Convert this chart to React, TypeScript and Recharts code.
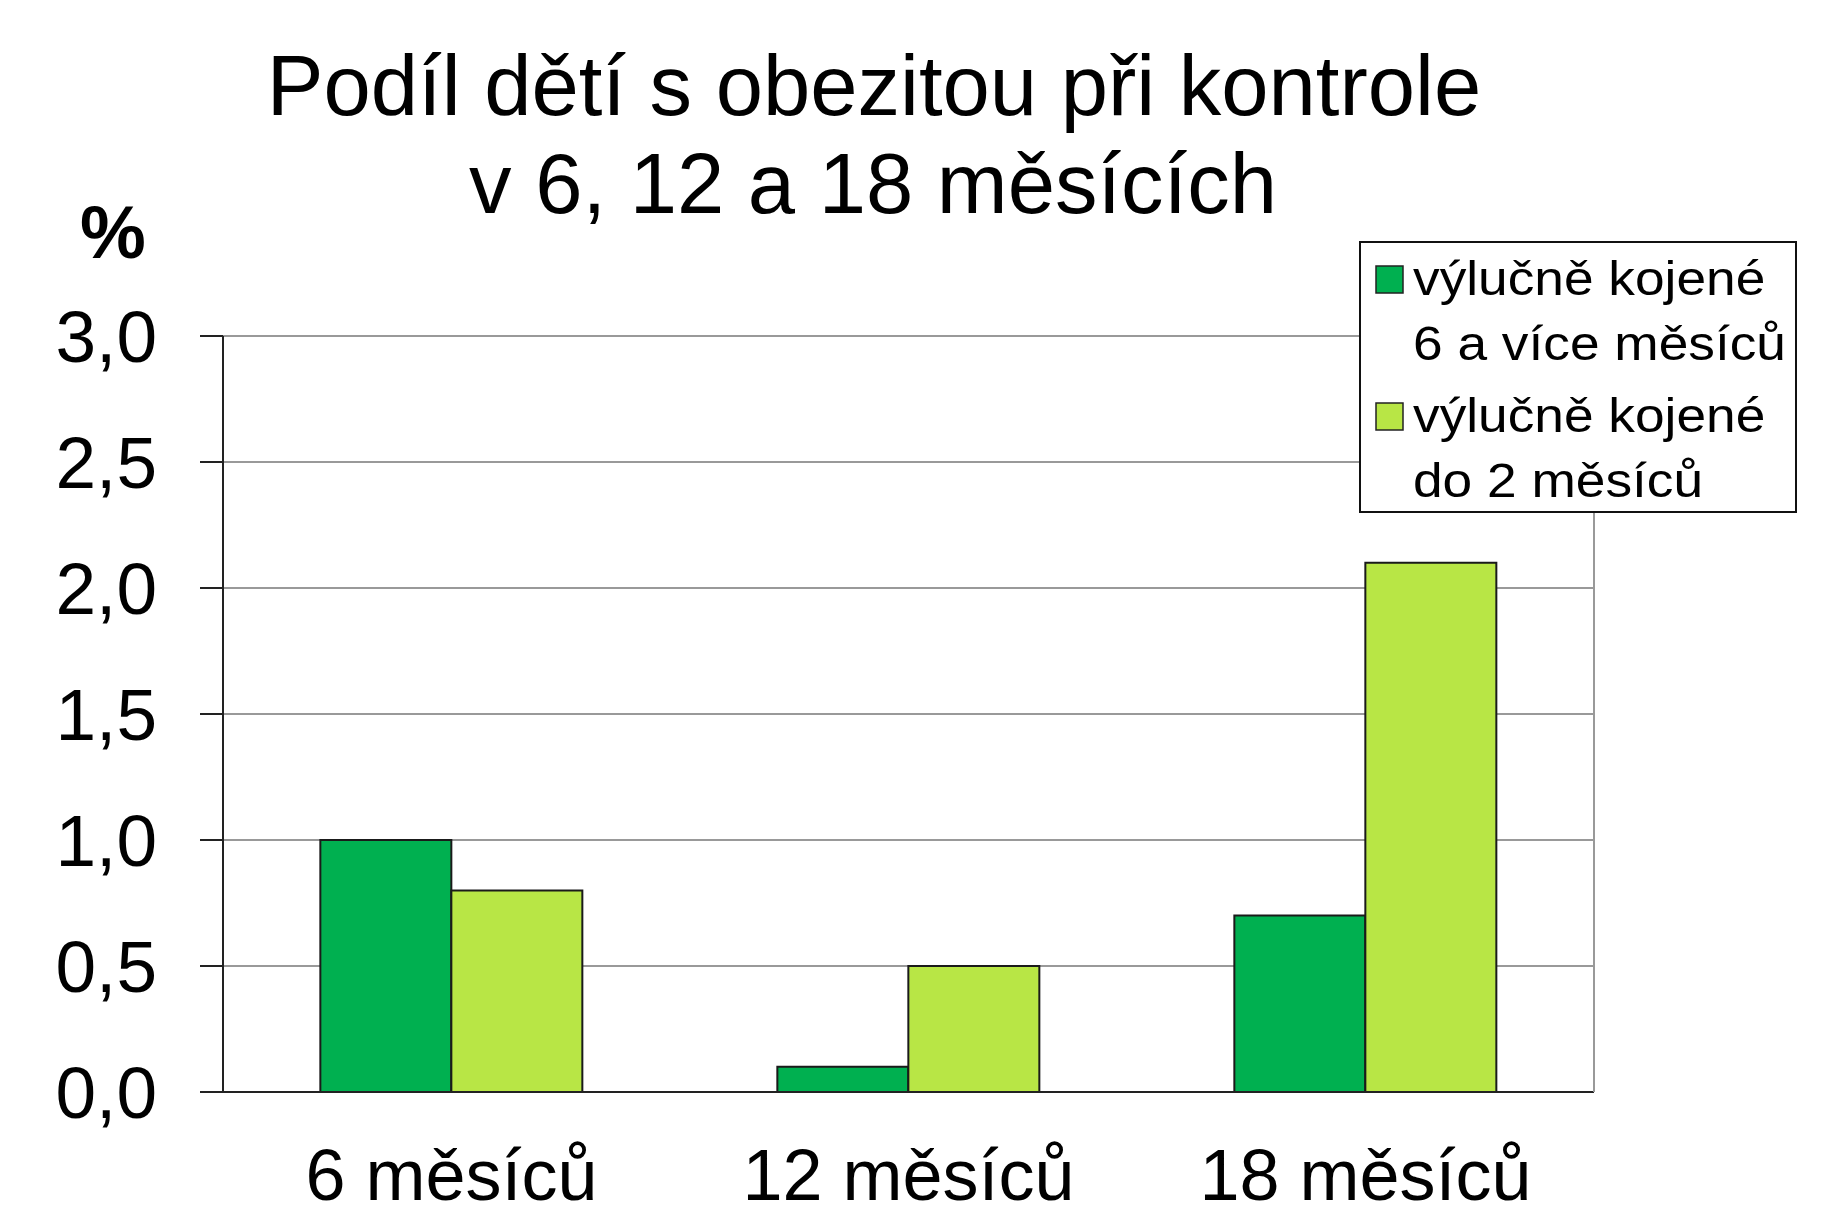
import React from 'react';
import { BarChart, Bar, XAxis, YAxis, CartesianGrid, Legend } from 'recharts';

const categories = ['6 měsíců', '12 měsíců', '18 měsíců'];
const series6Plus = [1.0, 0.1, 0.7];
const seriesTo2 = [0.8, 0.5, 2.1];
const yTicks = [0, 0.5, 1.0, 1.5, 2.0, 2.5, 3.0];
const seriesNames = ['výlučně kojené 6 a více měsíců', 'výlučně kojené do 2 měsíců'];
const legendLines = [
  ['výlučně kojené', '6 a více měsíců'],
  ['výlučně kojené', 'do 2 měsíců'],
];
const titleLines = ['Podíl dětí s obezitou při kontrole', 'v 6, 12 a 18 měsících'];
const yUnit = '%';

const COLORS = ['#00B050', '#B8E645'];
const FONT = '"Liberation Sans", Arial, sans-serif';

const data = categories.map((c, i) => ({
  month: c,
  a: series6Plus[i],
  b: seriesTo2[i],
}));

const LegendBox = () => (
  <svg width={438} height={272} style={{ display: 'block' }}>
    <rect x={1} y={1} width={436} height={270} fill="#fff" stroke="#111" strokeWidth={2} />
    {legendLines.map((lines, i) => {
      const base = i === 0 ? 54 : 191;
      return (
        <g key={i}>
          <rect x={17} y={base - 29} width={27} height={27} fill={COLORS[i]} stroke="#222" strokeWidth={1.5} />
          {lines.map((t, j) => (
            <text
              key={j}
              transform={`translate(54, ${base + j * 65}) scale(1.11, 1)`}
              fontSize={48}
              fontFamily={FONT}
              fill="#000"
            >
              {t}
            </text>
          ))}
        </g>
      );
    })}
  </svg>
);

export default function App() {
  return (
    <div
      style={{
        position: 'absolute',
        left: 0,
        top: 0,
        width: 1840,
        height: 1207,
        background: '#fff',
        fontFamily: FONT,
      }}
    >
      <BarChart
        width={1840}
        height={1207}
        data={data}
        margin={{ top: 336, right: 245, bottom: 0, left: 0 }}
        barCategoryGap="21.3%"
        barGap={0}
      >
        <CartesianGrid vertical={false} stroke="#999" strokeWidth={2} yAxisId="left" />
        <XAxis
          dataKey="month"
          interval={0}
          height={115}
          tickLine={false}
          tickSize={0}
          tickMargin={57}
          axisLine={{ stroke: '#222', strokeWidth: 2 }}
          tick={{ fontSize: 72, fill: '#000', fontFamily: FONT }}
        />
        <YAxis
          yAxisId="left"
          width={223}
          domain={[0, 3]}
          ticks={yTicks}
          interval={0}
          tickSize={23}
          tickMargin={43}
          tickFormatter={(v: number) => v.toFixed(1).replace('.', ',')}
          axisLine={{ stroke: '#222', strokeWidth: 2 }}
          tickLine={{ stroke: '#222', strokeWidth: 2 }}
          tick={{ fontSize: 73, fill: '#000', fontFamily: FONT }}
        />
        <YAxis
          yAxisId="right"
          orientation="right"
          width={1}
          domain={[0, 3]}
          tick={false}
          tickLine={false}
          axisLine={{ stroke: '#999', strokeWidth: 2 }}
        />
        <Legend
          layout="horizontal"
          align="center"
          verticalAlign="middle"
          content={() => <LegendBox />}
          wrapperStyle={{ position: 'absolute', left: 1359, top: 241, width: 438, height: 272 }}
        />
        <Bar
          yAxisId="left"
          dataKey="a"
          name={seriesNames[0]}
          fill={COLORS[0]}
          stroke="#1a1a1a"
          strokeWidth={2}
          isAnimationActive={false}
        />
        <Bar
          yAxisId="left"
          dataKey="b"
          name={seriesNames[1]}
          fill={COLORS[1]}
          stroke="#1a1a1a"
          strokeWidth={2}
          isAnimationActive={false}
        />
      </BarChart>
      <svg
        width={1840}
        height={300}
        style={{ position: 'absolute', left: 0, top: 0, pointerEvents: 'none' }}
      >
        <text x={874} y={115} textAnchor="middle" fontSize={85} fontFamily={FONT} fill="#000">
          {titleLines[0]}
        </text>
        <text x={873} y={213} textAnchor="middle" fontSize={85} fontFamily={FONT} fill="#000">
          {titleLines[1]}
        </text>
        <text x={113} y={258} textAnchor="middle" fontSize={74} fontWeight="bold" fontFamily={FONT} fill="#000">
          {yUnit}
        </text>
      </svg>
    </div>
  );
}
